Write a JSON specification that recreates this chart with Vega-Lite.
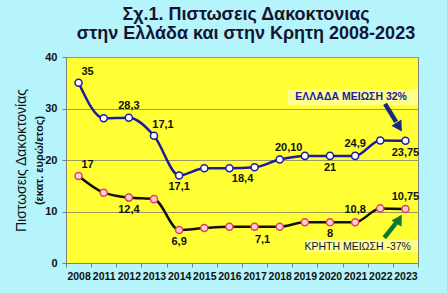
{
  "$schema": "https://vega.github.io/schema/vega-lite/v6.json",
  "width": 352,
  "height": 206,
  "autosize": {"type": "none"},
  "padding": {"left": 66, "top": 57, "right": 29, "bottom": 30},
  "background": "#b4f4fa",
  "title": {
    "text": ["Σχ.1. Πιστωσεις Δακοκτονιας", "στην Ελλάδα και στην Κρητη  2008-2023"],
    "font": "Liberation Sans",
    "fontSize": 18,
    "fontWeight": "bold",
    "color": "#141432",
    "anchor": "middle",
    "lineHeight": 19,
    "offset": 8,
    "dx": 4
  },
  "datasets": {
    "series": [
      {"year": "2008", "series": "Ελλάδα", "value": 35},
      {"year": "2011", "series": "Ελλάδα", "value": 28.1},
      {"year": "2012", "series": "Ελλάδα", "value": 28.2},
      {"year": "2013", "series": "Ελλάδα", "value": 24.7},
      {"year": "2014", "series": "Ελλάδα", "value": 17.0},
      {"year": "2015", "series": "Ελλάδα", "value": 18.4},
      {"year": "2016", "series": "Ελλάδα", "value": 18.4},
      {"year": "2017", "series": "Ελλάδα", "value": 18.6},
      {"year": "2018", "series": "Ελλάδα", "value": 20.1},
      {"year": "2019", "series": "Ελλάδα", "value": 20.8},
      {"year": "2020", "series": "Ελλάδα", "value": 20.8},
      {"year": "2021", "series": "Ελλάδα", "value": 20.8},
      {"year": "2022", "series": "Ελλάδα", "value": 23.8},
      {"year": "2023", "series": "Ελλάδα", "value": 23.75},
      {"year": "2008", "series": "Κρήτη", "value": 16.9},
      {"year": "2011", "series": "Κρήτη", "value": 13.65},
      {"year": "2012", "series": "Κρήτη", "value": 12.7},
      {"year": "2013", "series": "Κρήτη", "value": 12.4},
      {"year": "2014", "series": "Κρήτη", "value": 6.4},
      {"year": "2015", "series": "Κρήτη", "value": 6.8},
      {"year": "2016", "series": "Κρήτη", "value": 7.05},
      {"year": "2017", "series": "Κρήτη", "value": 7.05},
      {"year": "2018", "series": "Κρήτη", "value": 7.05},
      {"year": "2019", "series": "Κρήτη", "value": 7.9},
      {"year": "2020", "series": "Κρήτη", "value": 7.9},
      {"year": "2021", "series": "Κρήτη", "value": 7.9},
      {"year": "2022", "series": "Κρήτη", "value": 10.6},
      {"year": "2023", "series": "Κρήτη", "value": 10.5}
    ],
    "labels": [
      {"year": "2008", "value": 35, "label": "35", "pos": "aboveRight"},
      {"year": "2012", "value": 28.2, "label": "28,3", "pos": "above"},
      {"year": "2013", "value": 24.7, "label": "17,1", "pos": "aboveRight"},
      {"year": "2014", "value": 17.0, "label": "17,1", "pos": "below"},
      {"year": "2017", "value": 18.6, "label": "18,4", "pos": "belowLeft"},
      {"year": "2018", "value": 20.1, "label": "20,10", "pos": "aboveRight"},
      {"year": "2020", "value": 20.8, "label": "21", "pos": "below"},
      {"year": "2021", "value": 20.8, "label": "24,9", "pos": "above"},
      {"year": "2023", "value": 23.75, "label": "23,75", "pos": "below"},
      {"year": "2008", "value": 16.9, "label": "17", "pos": "aboveRight"},
      {"year": "2012", "value": 12.7, "label": "12,4", "pos": "below"},
      {"year": "2014", "value": 6.4, "label": "6,9", "pos": "below"},
      {"year": "2017", "value": 7.05, "label": "7,1", "pos": "belowRight"},
      {"year": "2020", "value": 7.9, "label": "8", "pos": "below"},
      {"year": "2021", "value": 7.9, "label": "10,8", "pos": "above"},
      {"year": "2023", "value": 10.5, "label": "10,75", "pos": "above"}
    ],
    "boxes": [
      {"who": "Ελλάδα", "x1": 8.83, "x2": 14, "y1": 30.7, "y2": 33.8},
      {"who": "Κρήτη", "x1": 9.5, "x2": 14, "y1": 2.1, "y2": 4.5}
    ],
    "notes": [
      {"who": "Ελλάδα", "x": 11.34, "y": 32.2, "text": "ΕΛΛΑΔΑ ΜΕΙΩΣΗ 32%"},
      {"who": "Κρήτη", "x": 11.6, "y": 3.1, "text": "ΚΡΗΤΗ  ΜΕΙΩΣΗ -37%"}
    ],
    "arrows": [
      {"who": "Ελλάδα", "x1": 12.69, "y1": 30.9, "x2": 13.13, "y2": 27.4},
      {"who": "Κρήτη", "x1": 12.66, "y1": 4.9, "x2": 13.13, "y2": 7.8}
    ],
    "heads": [
      {"who": "Ελλάδα", "x": 13.25, "y": 26.4},
      {"who": "Κρήτη", "x": 13.25, "y": 8.5}
    ]
  },
  "layer": [
    {
      "layer": [
        {
          "data": {"name": "series"},
          "transform": [{"filter": "datum.series === 'Ελλάδα'"}],
          "mark": {"type": "line", "interpolate": "monotone", "color": "#1c1ca0", "strokeWidth": 2.5},
          "encoding": {
            "x": {"field": "year", "type": "ordinal", "scale": {"type": "band", "paddingInner": 0, "paddingOuter": 0}, "title": null,
              "axis": {"labelAngle": 0, "labelFontSize": 10.5, "labelFontWeight": "bold", "labelColor": "#111111", "tickBand": "extent", "tickSize": 4, "tickColor": "#808080", "domainColor": "#808080", "labelPadding": 4, "grid": false}},
            "y": {"field": "value", "type": "quantitative", "scale": {"domain": [0, 40], "nice": false},
              "axis": {"orient": "left", "title": "(εκατ. ευρώ/ετος)", "titleFontSize": 11, "titleFontWeight": "bold", "titleColor": "#111111", "titlePadding": 0, "values": [0, 5, 10, 15, 20, 25, 30, 35, 40], "labelFontSize": 11, "labelFontWeight": "bold", "labelColor": "#111111", "labelPadding": 5, "tickSize": 4, "tickColor": "#808080", "domainColor": "#808080", "grid": true, "gridColor": "#9a9a5a", "gridWidth": 1}}
          }
        },
        {
          "data": {"name": "series"},
          "transform": [{"filter": "datum.series === 'Κρήτη'"}],
          "mark": {"type": "line", "interpolate": "monotone", "color": "#111111", "strokeWidth": 2.5},
          "encoding": {
            "x": {"field": "year", "type": "ordinal"},
            "y": {"field": "value", "type": "quantitative"}
          }
        },
        {
          "data": {"name": "series"},
          "transform": [{"filter": "datum.series === 'Ελλάδα'"}],
          "mark": {"type": "point", "filled": true, "fill": "#ffffff", "stroke": "#1c1ca0", "strokeWidth": 1.5, "size": 50, "opacity": 1},
          "encoding": {
            "x": {"field": "year", "type": "ordinal"},
            "y": {"field": "value", "type": "quantitative"}
          }
        },
        {
          "data": {"name": "series"},
          "transform": [{"filter": "datum.series === 'Κρήτη'"}],
          "mark": {"type": "point", "filled": true, "fill": "#ffd0d0", "stroke": "#e04060", "strokeWidth": 1.5, "size": 50, "opacity": 1},
          "encoding": {
            "x": {"field": "year", "type": "ordinal"},
            "y": {"field": "value", "type": "quantitative"}
          }
        },
        {
          "data": {"name": "labels"},
          "transform": [{"filter": "datum.pos === 'above'"}],
          "mark": {"type": "text", "fontSize": 11, "fontWeight": "bold", "color": "#111111", "baseline": "middle", "dy": -12},
          "encoding": {"x": {"field": "year", "type": "ordinal"}, "y": {"field": "value", "type": "quantitative"}, "text": {"field": "label"}}
        },
        {
          "data": {"name": "labels"},
          "transform": [{"filter": "datum.pos === 'below'"}],
          "mark": {"type": "text", "fontSize": 11, "fontWeight": "bold", "color": "#111111", "baseline": "middle", "dy": 12},
          "encoding": {"x": {"field": "year", "type": "ordinal"}, "y": {"field": "value", "type": "quantitative"}, "text": {"field": "label"}}
        },
        {
          "data": {"name": "labels"},
          "transform": [{"filter": "datum.pos === 'aboveRight'"}],
          "mark": {"type": "text", "fontSize": 11, "fontWeight": "bold", "color": "#111111", "baseline": "middle", "dx": 9, "dy": -11},
          "encoding": {"x": {"field": "year", "type": "ordinal"}, "y": {"field": "value", "type": "quantitative"}, "text": {"field": "label"}}
        },
        {
          "data": {"name": "labels"},
          "transform": [{"filter": "datum.pos === 'belowLeft'"}],
          "mark": {"type": "text", "fontSize": 11, "fontWeight": "bold", "color": "#111111", "baseline": "middle", "dx": -12, "dy": 12},
          "encoding": {"x": {"field": "year", "type": "ordinal"}, "y": {"field": "value", "type": "quantitative"}, "text": {"field": "label"}}
        },
        {
          "data": {"name": "labels"},
          "transform": [{"filter": "datum.pos === 'belowRight'"}],
          "mark": {"type": "text", "fontSize": 11, "fontWeight": "bold", "color": "#111111", "baseline": "middle", "dx": 8, "dy": 13},
          "encoding": {"x": {"field": "year", "type": "ordinal"}, "y": {"field": "value", "type": "quantitative"}, "text": {"field": "label"}}
        }
      ]
    },
    {
      "layer": [
        {
          "data": {"name": "boxes"},
          "mark": {"type": "rect", "fill": "#ffff8c"},
          "encoding": {
            "x": {"field": "x1", "type": "quantitative", "scale": {"domain": [0, 14], "nice": false, "zero": false}, "axis": null},
            "x2": {"field": "x2"},
            "y": {"field": "y1", "type": "quantitative", "scale": {"domain": [0, 40], "nice": false},
              "axis": {"orient": "left", "title": "Πιστωσεις Δακοκτονίας", "titleFontSize": 14, "titleFontWeight": "normal", "titleColor": "#111111", "titlePadding": 38, "labels": false, "ticks": false, "domain": false, "grid": false}},
            "y2": {"field": "y2"}
          }
        },
        {
          "data": {"name": "arrows"},
          "mark": {"type": "rule", "strokeWidth": 4.5},
          "encoding": {
            "x": {"field": "x1", "type": "quantitative", "axis": null},
            "x2": {"field": "x2"},
            "y": {"field": "y1", "type": "quantitative"},
            "y2": {"field": "y2"},
            "color": {"field": "who", "type": "nominal", "scale": {"domain": ["Ελλάδα", "Κρήτη"], "range": ["#102a84", "#0e7a2e"]}, "legend": null}
          }
        },
        {
          "data": {"name": "heads"},
          "transform": [{"filter": "datum.who === 'Ελλάδα'"}],
          "mark": {"type": "point", "shape": "triangle-down", "filled": true, "size": 140, "angle": 328, "color": "#102a84", "opacity": 1},
          "encoding": {
            "x": {"field": "x", "type": "quantitative", "axis": null},
            "y": {"field": "y", "type": "quantitative"}
          }
        },
        {
          "data": {"name": "heads"},
          "transform": [{"filter": "datum.who === 'Κρήτη'"}],
          "mark": {"type": "point", "shape": "triangle-up", "filled": true, "size": 140, "angle": 31, "color": "#0e7a2e", "opacity": 1},
          "encoding": {
            "x": {"field": "x", "type": "quantitative", "axis": null},
            "y": {"field": "y", "type": "quantitative"}
          }
        },
        {
          "data": {"name": "notes"},
          "transform": [{"filter": "datum.who === 'Ελλάδα'"}],
          "mark": {"type": "text", "fontSize": 10.5, "fontWeight": "bold", "color": "#2020a0", "baseline": "middle"},
          "encoding": {
            "x": {"field": "x", "type": "quantitative", "axis": null},
            "y": {"field": "y", "type": "quantitative"},
            "text": {"field": "text"}
          }
        },
        {
          "data": {"name": "notes"},
          "transform": [{"filter": "datum.who === 'Κρήτη'"}],
          "mark": {"type": "text", "fontSize": 10.5, "fontWeight": "normal", "color": "#101040", "baseline": "middle"},
          "encoding": {
            "x": {"field": "x", "type": "quantitative", "axis": null},
            "y": {"field": "y", "type": "quantitative"},
            "text": {"field": "text"}
          }
        }
      ]
    }
  ],
  "resolve": {"scale": {"x": "independent"}, "axis": {"y": "independent"}},
  "config": {
    "font": "Liberation Sans",
    "view": {"stroke": "#7f7f7f", "strokeWidth": 1, "fill": "#ffff33"},
    "axis": {"labelFont": "Liberation Sans", "titleFont": "Liberation Sans"}
  }
}
